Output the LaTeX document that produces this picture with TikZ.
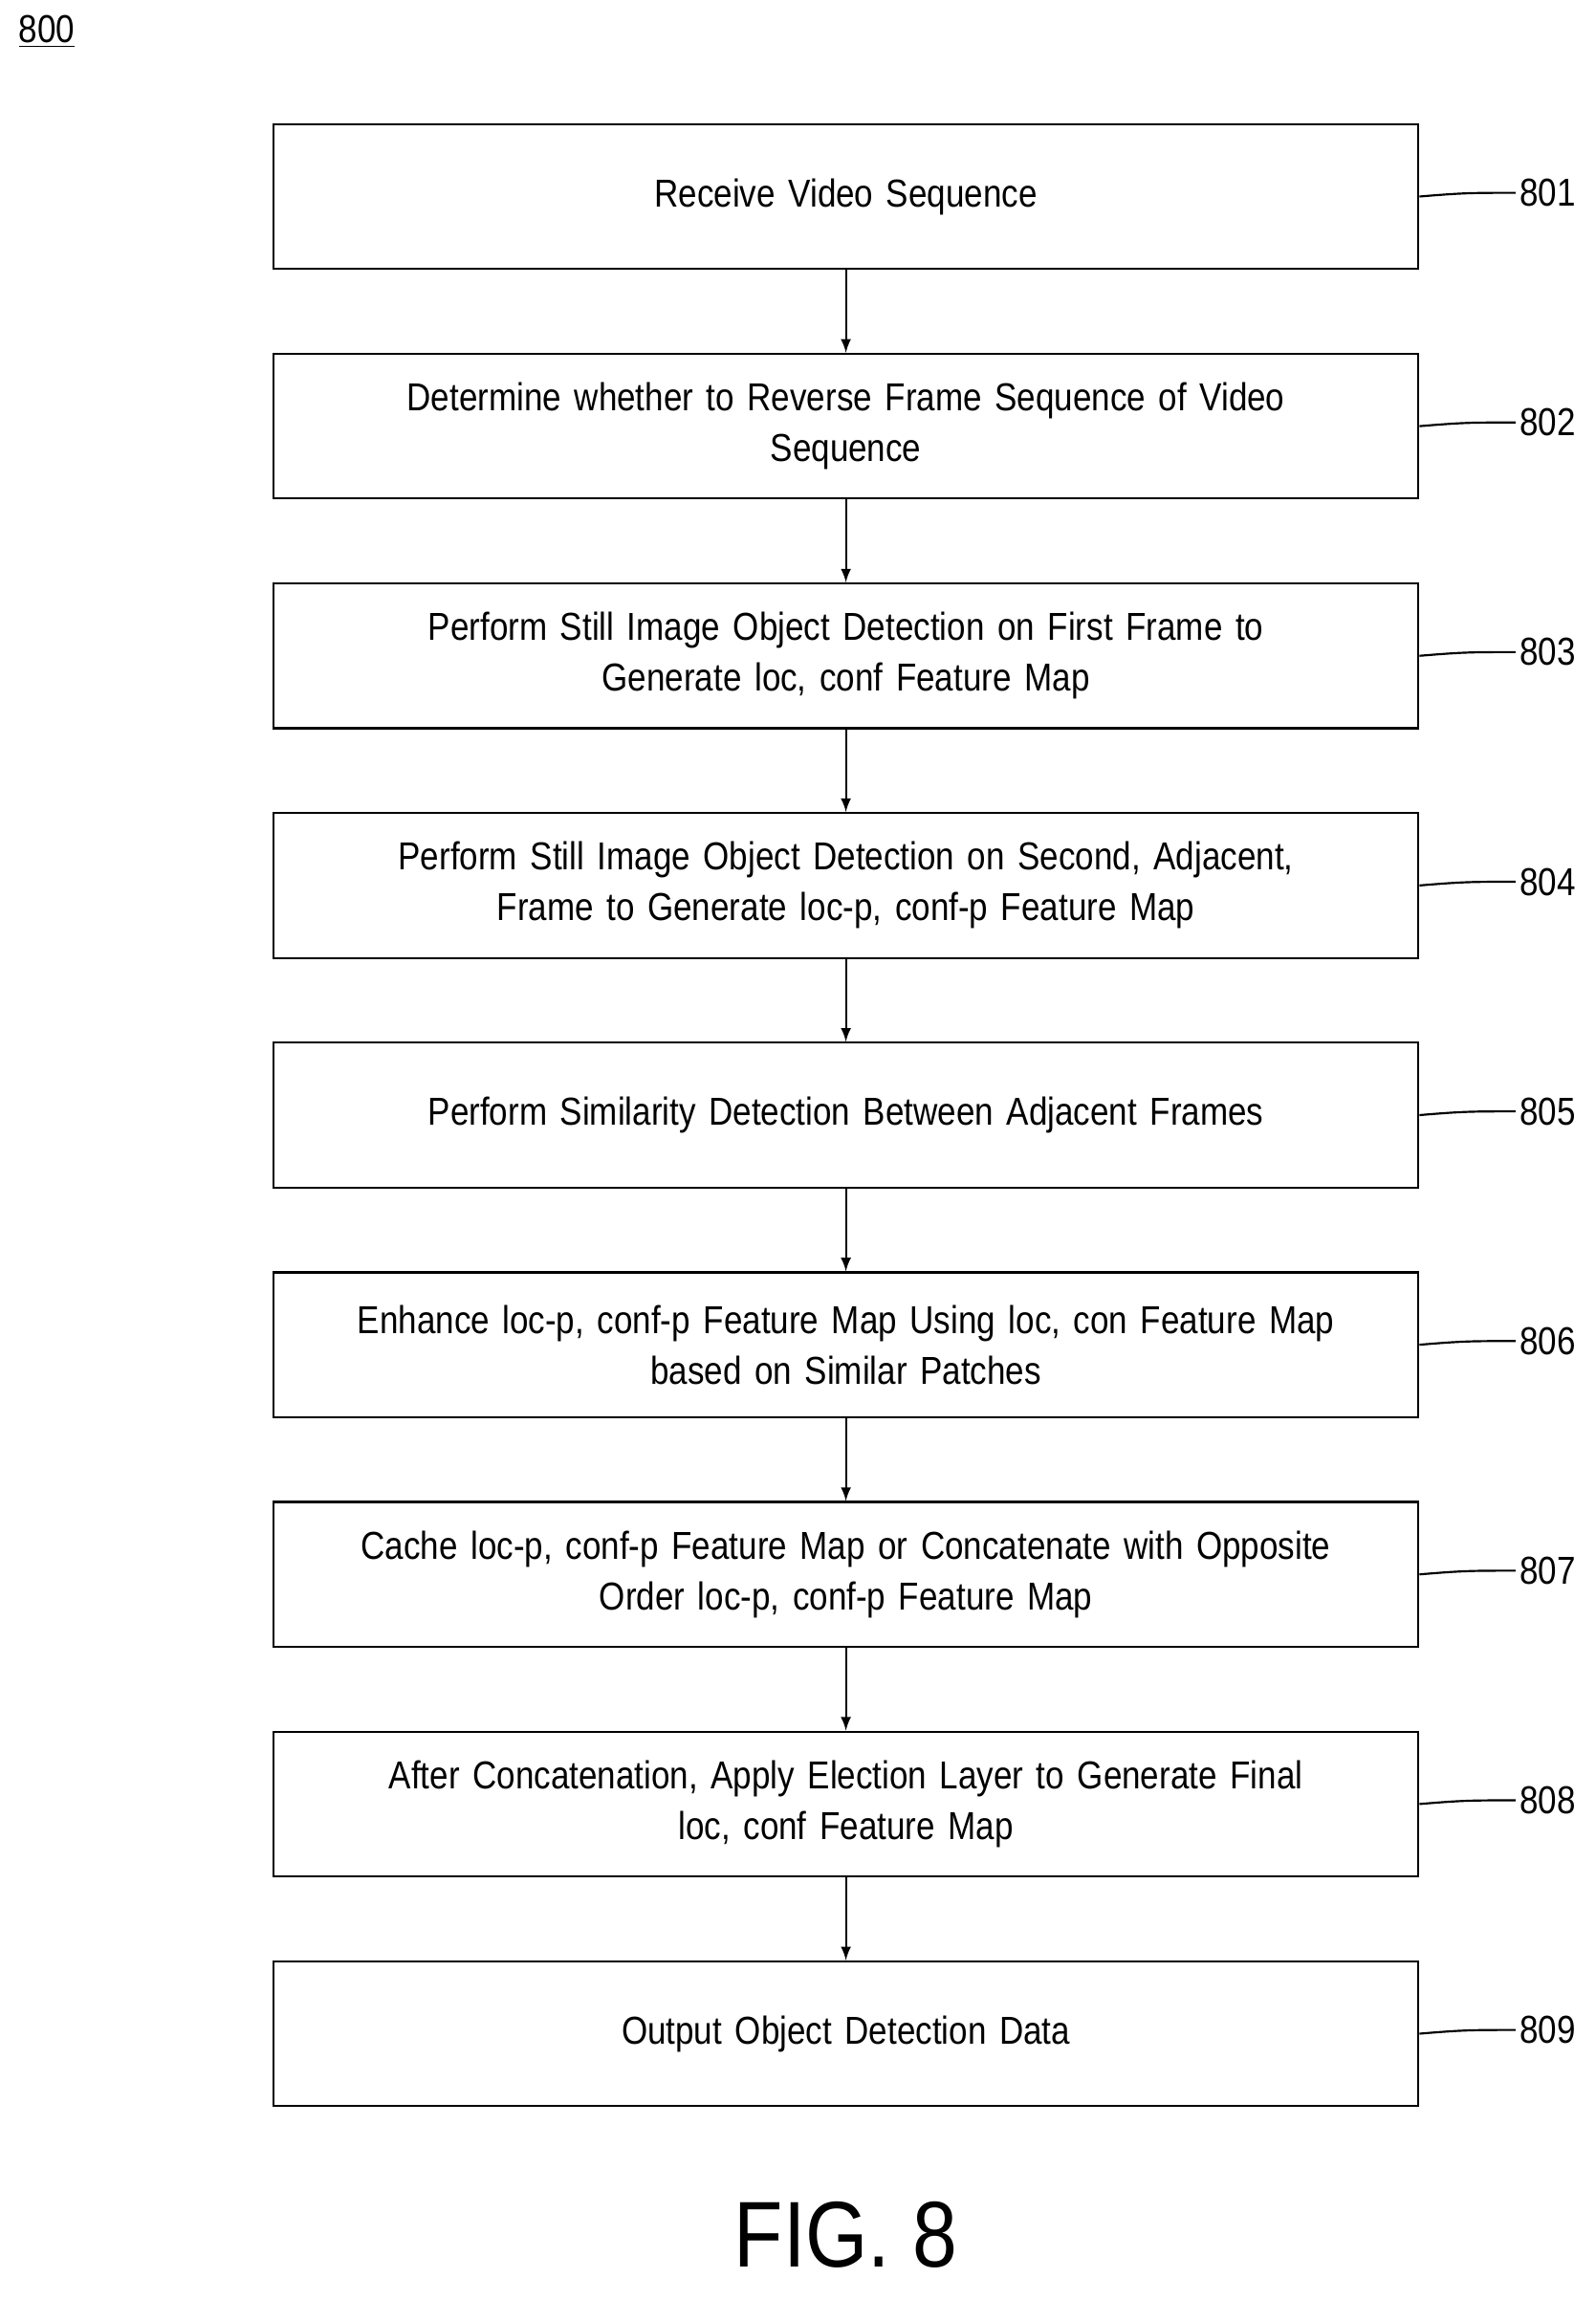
\documentclass[tikz,border=0pt]{standalone}
\usepackage{fontspec}
\setmainfont[FakeStretch=0.86]{Liberation Sans}
\usetikzlibrary{positioning}
\tikzset{
  stepbox/.style={draw, thick, minimum width=15.5cm, minimum height=1.96cm,
    text width=15.2cm, align=center, inner sep=2pt,
    font=\fontsize{15}{19.5}\selectfont},
  tag/.style={anchor=west, inner sep=0pt, font=\fontsize{15}{17}\selectfont},
  flow/.style={thick, -latex}
}
\begin{document}
\begin{tikzpicture}
  \useasboundingbox (0,0) rectangle (21.6,-31.13);
  \node[anchor=north west, inner sep=0pt, font=\fontsize{15}{17}\selectfont] (fignum) at (0.25,-0.2) {\underline{800}};
  \node[stepbox] (s801) at (11.45,-2.66) {Receive Video Sequence};
  \node[stepbox, below=1.12cm of s801] (s802) {Determine whether to Reverse Frame Sequence of Video\\ Sequence};
  \node[stepbox, below=1.12cm of s802] (s803) {Perform Still Image Object Detection on First Frame to\\ Generate loc, conf Feature Map};
  \node[stepbox, below=1.12cm of s803] (s804) {Perform Still Image Object Detection on Second, Adjacent,\\ Frame to Generate loc-p, conf-p Feature Map};
  \node[stepbox, below=1.12cm of s804] (s805) {Perform Similarity Detection Between Adjacent Frames};
  \node[stepbox, below=1.12cm of s805] (s806) {Enhance loc-p, conf-p Feature Map Using loc, con Feature Map\\ based on Similar Patches};
  \node[stepbox, below=1.12cm of s806] (s807) {Cache loc-p, conf-p Feature Map or Concatenate with Opposite\\ Order loc-p, conf-p Feature Map};
  \node[stepbox, below=1.12cm of s807] (s808) {After Concatenation, Apply Election Layer to Generate Final\\ loc, conf Feature Map};
  \node[stepbox, below=1.12cm of s808] (s809) {Output Object Detection Data};
  % connectors between steps
  \foreach \a/\b in {801/802,802/803,803/804,804/805,805/806,806/807,807/808,808/809}
    \draw[flow] (s\a) -- (s\b);
  % reference numerals with leaders
  \foreach \n in {801,...,809}{
    \node[tag] (t\n) at ([xshift=1.35cm, yshift=0.05cm]s\n.east) {\n};
    \draw[thick] (s\n.east) .. controls +(0.6,0.05) and +(-0.6,0) .. ([xshift=-0.05cm]t\n.west);
  }
  \node[font=\fontsize{36}{38}\selectfont] (figcap) at (11.45,-30.25) {FIG. 8};
\end{tikzpicture}
\end{document}
